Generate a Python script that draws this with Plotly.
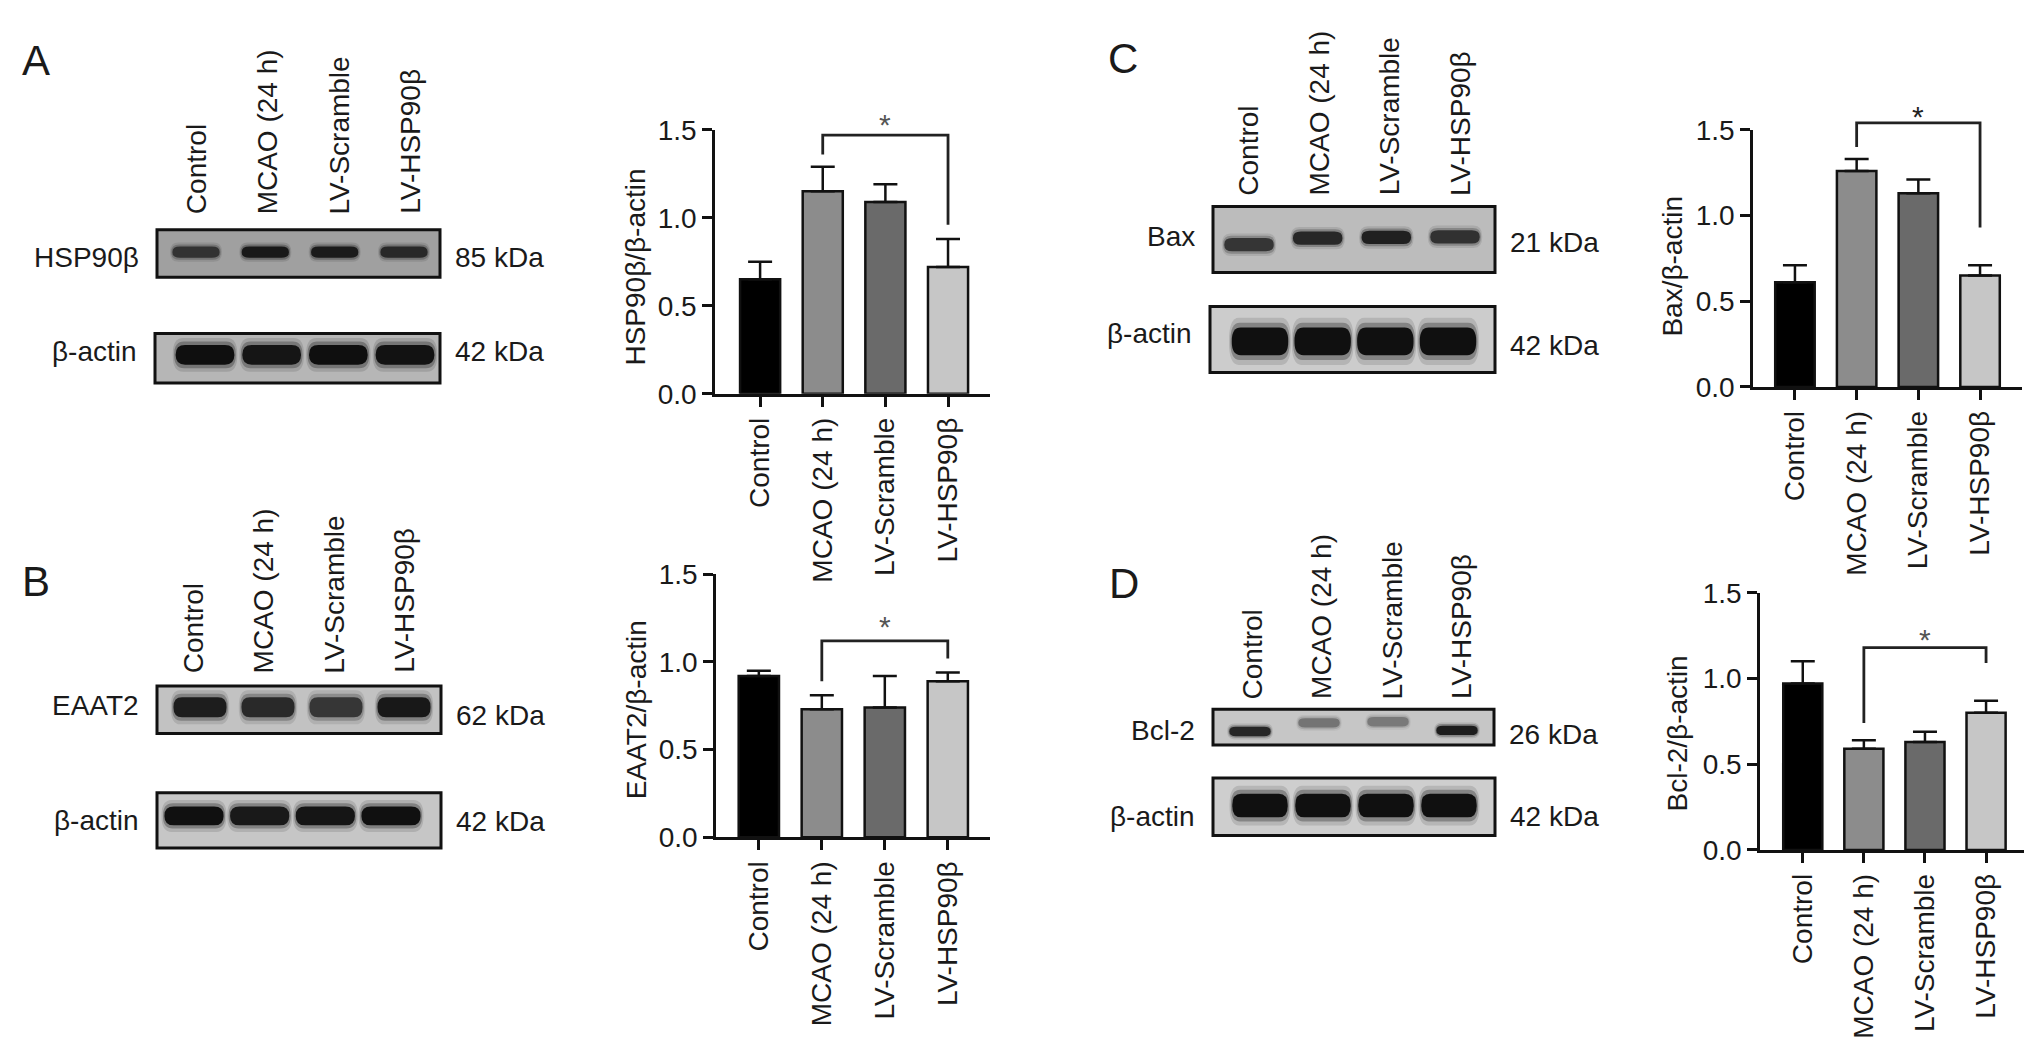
import plotly.graph_objects as go

W, H = 2032, 1054
FONT = "Liberation Sans, Arial, Helvetica, sans-serif"
INK = "#1a1a1a"

groups = ['Control', 'MCAO (24 h)', 'LV-Scramble', 'LV-HSP90β']
bar_colors = ['#000000', '#8c8c8c', '#6a6a6a', '#c6c6c6']

# densitometry (ratio to beta-actin), upward error
hsp_vals = [0.65, 1.15, 1.09, 0.72]
hsp_err = [0.10, 0.14, 0.10, 0.16]
eaat2_vals = [0.92, 0.73, 0.74, 0.89]
eaat2_err = [0.03, 0.08, 0.18, 0.05]
bax_vals = [0.61, 1.26, 1.13, 0.65]
bax_err = [0.10, 0.07, 0.08, 0.06]
bcl2_vals = [0.97, 0.59, 0.63, 0.80]
bcl2_err = [0.13, 0.05, 0.06, 0.07]

# MCAO vs LV-HSP90β bracket: left foot, top, right foot, asterisk
hsp_sig = [1.36, 1.47, 0.96, 1.53]
eaat2_sig = [0.89, 1.12, 1.02, 1.20]
bax_sig = [1.40, 1.54, 0.93, 1.58]
bcl2_sig = [0.74, 1.18, 1.09, 1.23]

# western blot band darkness per lane (0 = empty, 1 = saturated)
hsp_band = [0.75, 0.92, 0.90, 0.82]
eaat2_band = [0.92, 0.85, 0.78, 0.95]
bax_band = [0.78, 0.86, 0.90, 0.80]
bcl2_band = [0.88, 0.45, 0.42, 0.92]
actin_a = [1.0, 0.96, 1.0, 0.98]
actin_b = [1.0, 0.95, 0.97, 1.0]
actin_c = [1.0, 1.0, 1.0, 1.0]
actin_d = [1.0, 1.0, 1.0, 1.0]


def px(x):
    return x / W


def py(y):
    return 1 - y / H


def ax_names(n):
    s = '' if n == 1 else str(n)
    return 'xaxis' + s, 'yaxis' + s, 'x' + s, 'y' + s


fig = go.Figure()
layout = dict(width=W, height=H, autosize=False, margin=dict(l=0, r=0, t=0, b=0),
              paper_bgcolor='white', plot_bgcolor='rgba(0,0,0,0)', showlegend=False,
              font=dict(family=FONT, size=28, color=INK))
shapes, annots = [], []


def text(x, y, s, size=28, xa='center', ya='middle', angle=0, color=INK):
    annots.append(dict(x=px(x), y=py(y), xref='paper', yref='paper', text=s,
                       showarrow=False, xanchor=xa, yanchor=ya, textangle=angle,
                       font=dict(family=FONT, size=size, color=color)))


def band_path(cx, cy, a, b):
    # rounded rectangle centred on (cx, cy), half sizes a, b (axis units)
    rx, ry = a * 0.32, b * 0.95
    return (f'M{cx - a + rx},{cy - b} L{cx + a - rx},{cy - b} Q{cx + a},{cy - b} {cx + a},{cy - b + ry} '
            f'L{cx + a},{cy + b - ry} Q{cx + a},{cy + b} {cx + a - rx},{cy + b} '
            f'L{cx - a + rx},{cy + b} Q{cx - a},{cy + b} {cx - a},{cy + b - ry} '
            f'L{cx - a},{cy - b + ry} Q{cx - a},{cy - b} {cx - a + rx},{cy - b} Z')


# ---------- blots ----------
# box (x0, x1, ytop, ybot) px, lane0/lane3 px, band y centre, band h, band w, bg grey
blot_rows = [
    dict(dark=hsp_band, box=(149, 432, 213, 262), lanes=(188, 396), yc=0.53, h=0.24, w=0.68, bg=160,
         left='HSP90β', ly=242, right='85 kDa', ry=242),
    dict(dark=actin_a, box=(147, 432, 320, 371), lanes=(197, 397), yc=0.57, h=0.40, w=0.88, bg=182,
         left='β-actin', ly=338, right='42 kDa', ry=338),
    dict(dark=eaat2_band, box=(149, 433, 683, 732), lanes=(192, 396), yc=0.55, h=0.42, w=0.78, bg=194,
         left='EAAT2', ly=703, right='62 kDa', ry=713),
    dict(dark=actin_b, box=(149, 433, 793, 850), lanes=(186, 383), yc=0.58, h=0.34, w=0.9, bg=198,
         left='β-actin', ly=822, right='42 kDa', ry=823),
    dict(dark=bax_band, box=(1205, 1487, 189, 257), lanes=(1241, 1447), yc=0.5, h=0.20, w=0.72, bg=188,
         dy=[-0.08, 0.02, 0.03, 0.04], left='Bax', ly=220, right='21 kDa', ry=226),
    dict(dark=actin_c, box=(1202, 1487, 292, 360), lanes=(1252, 1440), yc=0.47, h=0.42, w=0.9, bg=204,
         left='β-actin', ly=320, right='42 kDa', ry=332),
    dict(dark=bcl2_band, box=(1205, 1486, 707, 744), lanes=(1242, 1449), yc=0.5, h=0.26, w=0.6, bg=198,
         dy=[-0.12, 0.12, 0.15, -0.09], left='Bcl-2', ly=729, right='26 kDa', ry=733),
    dict(dark=actin_d, box=(1205, 1487, 778, 837), lanes=(1252, 1441), yc=0.52, h=0.41, w=0.88, bg=206,
         left='β-actin', ly=818, right='42 kDa', ry=818),
]

# soft band edge: (width scale, height scale, opacity)
band_layers = [(1.10, 1.7, 0.12), (1.05, 1.35, 0.28), (1.0, 1.0, 0.92)]

for n, row in enumerate(blot_rows, start=1):
    xk, yk, xr, yr = ax_names(n)
    x0, x1, yt, yb = row['box']
    l0, l3 = row['lanes']
    step = (l3 - l0) / 3
    layout[xk] = dict(domain=[px(x0), px(x1)], range=[(x0 - l0) / step, (x1 - l0) / step],
                      anchor=yr, visible=False, fixedrange=True)
    layout[yk] = dict(domain=[py(yb), py(yt)], range=[0, 1], anchor=xr,
                      visible=False, fixedrange=True)
    g = row['bg']
    shapes.append(dict(type='rect', xref=xr + ' domain', yref=yr + ' domain', x0=0, x1=1, y0=0, y1=1,
                       fillcolor=f'rgb({g},{g},{g})', line=dict(width=0), layer='below'))
    dys = row.get('dy', [0, 0, 0, 0])
    for i, d in enumerate(row['dark']):
        v = int(round(g - (g - 6) * d))
        col = f'rgb({v},{v},{v})'
        a, b = row['w'] / 2, row['h'] / 2
        cy = row['yc'] + dys[i]
        for sw, sh, op in band_layers:
            shapes.append(dict(type='path', xref=xr, yref=yr, path=band_path(i, cy, a * sw, b * sh),
                               fillcolor=col, opacity=op, line=dict(width=0)))
    shapes.append(dict(type='rect', xref=xr + ' domain', yref=yr + ' domain', x0=0, x1=1, y0=0, y1=1,
                       fillcolor='rgba(0,0,0,0)', line=dict(color='#111', width=3)))
    text(x0 - 16, row['ly'], row['left'], xa='right')
    text(x1 + 13, row['ry'], row['right'], xa='left')

# lane headers over the blots: first label x, spacing, bottom y
lane_heads = [(188, 71.7, 199), (185, 70.7, 672), (1241, 70.3, 180), (1244, 70.0, 699)]
for x0, dx, yb in lane_heads:
    for i, g in enumerate(groups):
        text(x0 + i * dx, yb, g, xa='center', ya='bottom', angle=-90)

# panel letters
for lab, (x, y) in zip('ABCD', [(28, 39), (28, 575), (1115, 37), (1116, 577)]):
    text(x, y, lab, size=42)

# ---------- bar charts ----------
bar_panels = [
    dict(vals=hsp_vals, err=hsp_err, sig=hsp_sig, title='HSP90β/β-actin',
         box=(707, 982, 110, 382), xr=(-0.72, 3.67), ttl=(628, 252), star='#555'),
    dict(vals=eaat2_vals, err=eaat2_err, sig=eaat2_sig, title='EAAT2/β-actin',
         box=(708, 982, 568, 839), xr=(-0.68, 3.67), ttl=(628, 708), star='#555'),
    dict(vals=bax_vals, err=bax_err, sig=bax_sig, title='Bax/β-actin',
         box=(1745, 2014, 110, 375), xr=(-0.68, 3.68), ttl=(1665, 251), star='#222'),
    dict(vals=bcl2_vals, err=bcl2_err, sig=bcl2_sig, title='Bcl-2/β-actin',
         box=(1752, 2019, 587, 852), xr=(-0.70, 3.67), ttl=(1669, 732), star='#555'),
]

HEAD = 60  # extra px above each chart for the significance bracket

for k, p in enumerate(bar_panels):
    n = 9 + k
    xk, yk, xr, yr = ax_names(n)
    _, syk, _, syr = ax_names(13 + k)
    x0, x1, yt, yb = p['box']
    fig.add_trace(go.Bar(x=[0, 1, 2, 3], y=p['vals'], width=0.64, xaxis=xr, yaxis=yr,
                         marker=dict(color=bar_colors, line=dict(color='#111', width=2.5)),
                         error_y=dict(type='data', array=p['err'], arrayminus=[0] * 4,
                                      symmetric=False, color='#111', thickness=2.5, width=12)))
    s = p['sig']
    fig.add_trace(go.Scatter(x=[1, 1, 3, 3], y=[s[0], s[1], s[1], s[2]], mode='lines',
                             xaxis=xr, yaxis=syr, line=dict(color='#222', width=2.8)))
    annots.append(dict(x=2, y=s[3], xref=xr, yref=syr, text='*', showarrow=False,
                       font=dict(family=FONT, size=30, color=p['star'])))
    common = dict(showline=True, linewidth=2.5, linecolor='#111', ticks='outside', ticklen=10,
                  tickwidth=2.5, tickcolor='#111', showgrid=False, zeroline=False, fixedrange=True,
                  tickfont=dict(family=FONT, size=28, color=INK))
    layout[xk] = dict(domain=[px(x0), px(x1)], range=list(p['xr']), anchor=yr,
                      tickvals=[0, 1, 2, 3], ticktext=groups, tickangle=-90, **common)
    layout[yk] = dict(domain=[py(yb), py(yt)], range=[0, 1.5], anchor=xr,
                      tickvals=[0, 0.5, 1.0, 1.5], tickformat='.1f', **common)
    # same scale as the bar axis, taller domain so the bracket is not clipped
    layout[syk] = dict(domain=[py(yb), py(yt - HEAD)], range=[0, 1.5 * (yb - yt + HEAD) / (yb - yt)],
                       anchor=xr, visible=False, fixedrange=True)
    text(p['ttl'][0], p['ttl'][1], p['title'], angle=-90)

layout['shapes'] = shapes
layout['annotations'] = annots
fig.update_layout(**layout)
fig.write_html("out.html")
